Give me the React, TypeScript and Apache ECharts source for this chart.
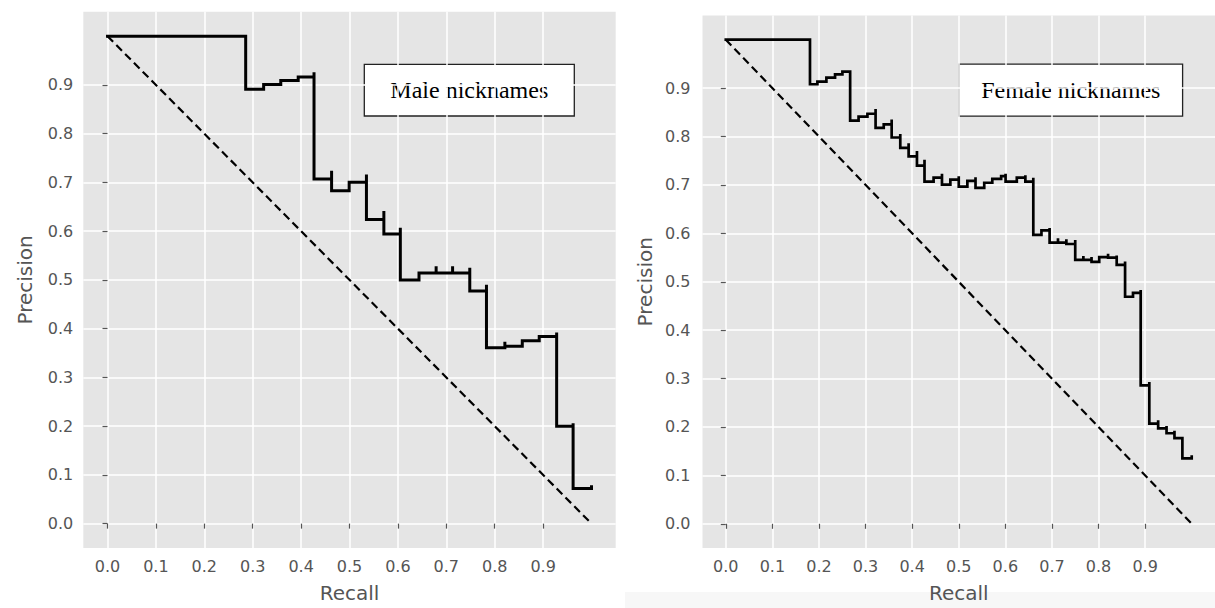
import React, { useEffect, useRef } from "react";
import * as echarts from "echarts";

// Tick values shown on both axes
const tickValues = [0.0, 0.1, 0.2, 0.3, 0.4, 0.5, 0.6, 0.7, 0.8, 0.9];

// Chance (diagonal) line
const diagonalRecall = [0, 1];
const diagonalPrecision = [1, 0];

// Male nicknames precision-recall steps (left end of each horizontal step)
const maleRecall = [
  0, 0.2855, 0.3226, 0.358, 0.394, 0.4267, 0.4267, 0.463, 0.463, 0.4993,
  0.535, 0.535, 0.571, 0.571, 0.605, 0.605, 0.6436, 0.679, 0.679, 0.713,
  0.713, 0.7485, 0.7485, 0.783, 0.783, 0.821, 0.821, 0.857, 0.892, 0.928,
  0.928, 0.962, 0.962, 1.0,
];
const malePrecision = [
  1.0, 0.891, 0.901, 0.909, 0.916, 0.926, 0.707, 0.724, 0.683, 0.7005,
  0.716, 0.624, 0.6415, 0.594, 0.607, 0.5, 0.514, 0.528, 0.514, 0.528,
  0.514, 0.525, 0.477, 0.49, 0.361, 0.373, 0.364, 0.375, 0.384, 0.392,
  0.2, 0.206, 0.072, 0.0755,
];

// Female nicknames precision-recall steps
const femaleRecall = [
  0, 0.1807, 0.1966, 0.2159, 0.2345, 0.2503, 0.2669, 0.2669, 0.285, 0.304,
  0.3215, 0.3215, 0.339, 0.356, 0.356, 0.3745, 0.3745, 0.3924, 0.3924, 0.4103,
  0.4103, 0.4265, 0.4265, 0.446, 0.464, 0.464, 0.482, 0.5, 0.5, 0.5185,
  0.536, 0.536, 0.5547, 0.572, 0.591, 0.6005, 0.6005, 0.6246, 0.643, 0.643,
  0.66, 0.66, 0.6775, 0.695, 0.695, 0.713, 0.713, 0.731, 0.731, 0.75,
  0.75, 0.7675, 0.7675, 0.785, 0.785, 0.8015, 0.8205, 0.8205, 0.839, 0.839,
  0.857, 0.857, 0.874, 0.8905, 0.8905, 0.909, 0.909, 0.928, 0.928, 0.946,
  0.946, 0.963, 0.963, 0.98, 0.98, 1.0,
];
const femalePrecision = [
  1.0, 0.908, 0.9136, 0.9217, 0.9285, 0.934, 0.937, 0.833, 0.841, 0.847,
  0.857, 0.818, 0.825, 0.835, 0.798, 0.805, 0.7765, 0.786, 0.759, 0.77,
  0.74, 0.752, 0.707, 0.715, 0.723, 0.7005, 0.711, 0.718, 0.6966, 0.7085,
  0.716, 0.694, 0.7045, 0.7125, 0.718, 0.723, 0.707, 0.715, 0.72, 0.707,
  0.715, 0.597, 0.606, 0.611, 0.581, 0.59, 0.581, 0.588, 0.578, 0.586,
  0.545, 0.553, 0.545, 0.551, 0.541, 0.551, 0.558, 0.55, 0.554, 0.535,
  0.542, 0.469, 0.477, 0.483, 0.286, 0.293, 0.207, 0.214, 0.197, 0.202,
  0.187, 0.192, 0.177, 0.18, 0.135, 0.139,
];

const panelTitles = ["Male nicknames", "Female nicknames"];

const zip = (xs: number[], ys: number[]) => xs.map((x, i) => [x, ys[i]]);

const TICK_COLOR = "#555555";
const FONT = "DejaVu Sans";

function makeXAxis(gridIndex: number) {
  return {
    type: "value",
    gridIndex,
    min: -0.05,
    max: 1.05,
    name: "Recall",
    nameLocation: "middle",
    nameGap: 35,
    nameTextStyle: { fontSize: 20, color: TICK_COLOR, fontFamily: FONT },
    axisLine: { show: false },
    axisTick: {
      show: true,
      length: 5,
      customValues: tickValues,
      lineStyle: { color: TICK_COLOR, width: 1.2 },
    },
    axisLabel: {
      customValues: tickValues,
      formatter: (v: number) => v.toFixed(1),
      fontSize: 16,
      color: TICK_COLOR,
      fontFamily: FONT,
      margin: 10,
    },
    splitLine: { show: true, lineStyle: { color: "#ffffff", width: 1.5 } },
  };
}

function makeYAxis(gridIndex: number) {
  return {
    type: "value",
    gridIndex,
    min: -0.05,
    max: 1.05,
    name: "Precision",
    nameLocation: "middle",
    nameGap: 48,
    nameTextStyle: { fontSize: 20, color: TICK_COLOR, fontFamily: FONT },
    axisLine: { show: false },
    axisTick: {
      show: true,
      length: 5,
      customValues: tickValues,
      lineStyle: { color: TICK_COLOR, width: 1.2 },
    },
    axisLabel: {
      customValues: tickValues,
      formatter: (v: number) => v.toFixed(1),
      fontSize: 16,
      color: TICK_COLOR,
      fontFamily: FONT,
      margin: gridIndex === 0 ? 10 : 12,
    },
    splitLine: { show: true, lineStyle: { color: "#ffffff", width: 1.5 } },
  };
}

function titleBox(x: number, y: number, w: number, h: number, text: string) {
  return {
    type: "group",
    x,
    y,
    z: 100,
    children: [
      {
        type: "rect",
        shape: { x: 0, y: 0, width: w, height: h },
        style: { fill: "#ffffff", stroke: "#222222", lineWidth: 1.3 },
      },
      {
        type: "text",
        x: w / 2,
        y: h / 2,
        style: {
          text,
          fill: "#000000",
          fontFamily: "Liberation Serif",
          fontSize: 24,
          align: "center",
          verticalAlign: "middle",
        },
      },
    ],
  };
}

export default function App() {
  const ref = useRef<HTMLDivElement>(null);

  useEffect(() => {
    if (!ref.current) return;
    const chart = echarts.init(ref.current, undefined, { renderer: "svg" });
    const curveStyle = (w: number) => ({
      color: "#000000",
      width: w,
      cap: "square",
      join: "miter",
    });
    const dashStyle = { color: "#000000", width: 2.2, type: [8, 4.5] };

    chart.setOption({
      animation: false,
      backgroundColor: "#ffffff",
      textStyle: { fontFamily: FONT },
      grid: [
        {
          left: 83.3,
          top: 11.8,
          width: 532.4,
          height: 543.4,
          show: true,
          backgroundColor: "#E5E5E5",
          borderWidth: 0,
          containLabel: false,
        },
        {
          left: 702.5,
          top: 15.5,
          width: 527,
          height: 535.5,
          show: true,
          backgroundColor: "#E5E5E5",
          borderWidth: 0,
          containLabel: false,
        },
      ],
      xAxis: [makeXAxis(0), makeXAxis(1)],
      yAxis: [makeYAxis(0), makeYAxis(1)],
      series: [
        {
          type: "line",
          name: "chance-male",
          xAxisIndex: 0,
          yAxisIndex: 0,
          data: zip(diagonalRecall, diagonalPrecision),
          showSymbol: false,
          symbol: "none",
          lineStyle: dashStyle,
          z: 2,
        },
        {
          type: "line",
          name: panelTitles[0],
          xAxisIndex: 0,
          yAxisIndex: 0,
          data: zip(maleRecall, malePrecision),
          step: "end",
          showSymbol: false,
          symbol: "none",
          lineStyle: curveStyle(3),
          z: 3,
        },
        {
          type: "line",
          name: "chance-female",
          xAxisIndex: 1,
          yAxisIndex: 1,
          data: zip(diagonalRecall, diagonalPrecision),
          showSymbol: false,
          symbol: "none",
          lineStyle: dashStyle,
          z: 2,
        },
        {
          type: "line",
          name: panelTitles[1],
          xAxisIndex: 1,
          yAxisIndex: 1,
          data: zip(femaleRecall, femalePrecision),
          step: "end",
          showSymbol: false,
          symbol: "none",
          lineStyle: curveStyle(2.7),
          z: 3,
        },
      ],
      graphic: [
        {
          type: "rect",
          z: -10,
          shape: { x: 625, y: 592, width: 600, height: 20 },
          style: { fill: "#f7f7f7" },
          silent: true,
        },
        titleBox(364.3, 64.3, 210, 51.7, panelTitles[0]),
        titleBox(959, 64.1, 223.6, 52, panelTitles[1]),
      ],
    });
    return () => chart.dispose();
  }, []);

  return (
    <div
      ref={ref}
      style={{
        position: "fixed",
        left: 0,
        top: 0,
        width: 1215,
        height: 608,
        background: "#ffffff",
      }}
    />
  );
}
